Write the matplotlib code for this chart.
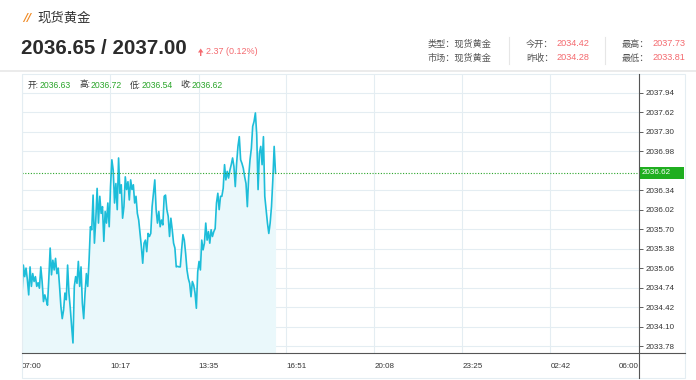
import matplotlib.pyplot as plt
from matplotlib.lines import Line2D
from matplotlib.patches import Rectangle, Polygon

W, H = 696, 380

# price samples, one every 3 minutes from 07:00
prices = [
    2034.63, 2035.11, 2034.92, 2035.06, 2034.87, 2034.62, 2035.08, 2034.76, 2034.97, 2034.84,
    2034.92, 2034.76, 2034.82, 2034.73, 2035.08, 2034.84, 2034.51, 2034.62, 2034.54, 2034.45,
    2034.89, 2035.39, 2034.95, 2035.19, 2035.03, 2035.22, 2034.97, 2035.06, 2034.76, 2034.43,
    2034.23, 2034.37, 2034.65, 2034.54, 2035.11, 2034.65, 2034.40, 2034.10, 2033.83, 2034.76,
    2034.92, 2034.81, 2035.17, 2034.76, 2035.08, 2034.48, 2034.23, 2034.65, 2034.97, 2034.76,
    2035.19, 2035.74, 2035.69, 2036.26, 2035.47, 2035.85, 2036.37, 2035.80, 2036.24, 2035.96,
    2036.07, 2035.50, 2035.99, 2035.80, 2036.13, 2035.74, 2036.40, 2036.84, 2036.67, 2036.13,
    2036.45, 2036.02, 2036.87, 2036.29, 2036.43, 2035.88, 2036.07, 2036.56, 2036.35, 2036.48,
    2036.18, 2036.51, 2036.35, 2036.43, 2036.13, 2036.24, 2035.96, 2035.85, 2035.63, 2035.41,
    2035.14, 2035.47, 2035.52, 2035.33, 2035.63, 2035.58, 2035.63, 2036.07, 2036.29, 2036.51,
    2036.02, 2035.80, 2035.99, 2035.74, 2035.85, 2035.77, 2036.24, 2036.26, 2036.02, 2035.91,
    2035.58, 2035.88, 2035.69, 2035.47, 2035.39, 2035.08, 2035.09, 2035.08, 2035.08, 2035.36,
    2035.61, 2035.52, 2035.30, 2035.03, 2034.89, 2034.81, 2034.59, 2034.84, 2034.78, 2034.65,
    2034.40, 2035.00, 2035.17, 2035.03, 2035.52, 2035.36, 2035.47, 2035.80, 2035.52, 2035.66,
    2035.47, 2035.69, 2035.58, 2035.66, 2035.71, 2036.13, 2036.29, 2036.02, 2036.24, 2036.24,
    2036.37, 2036.76, 2036.51, 2036.65, 2036.54, 2036.67, 2036.76, 2036.87, 2036.73, 2036.40,
    2036.78, 2037.06, 2037.22, 2036.84, 2036.78, 2036.70, 2036.56, 2036.45, 2036.07, 2036.56,
    2036.84, 2037.03, 2037.39, 2037.47, 2037.61, 2037.25, 2036.35, 2036.95, 2037.06, 2036.76,
    2037.22, 2036.24, 2036.02, 2035.80, 2035.63, 2035.80, 2036.07, 2036.51, 2037.06, 2036.62,
]
minutes = [3 * i for i in range(len(prices))]

x_ticks = [0, 197, 395, 591, 788, 985, 1182, 1380]
x_labels = ['07:00', '10:17', '13:35', '16:51', '20:08', '23:25', '02:42', '06:00']
# 2036.66 is hidden behind the current price tag
y_labels = ['2033.78', '2034.10', '2034.42', '2034.74', '2035.06', '2035.38', '2035.70',
            '2036.02', '2036.34', '2036.98', '2037.30', '2037.62', '2037.94']
y_ticks = [float(s) for s in y_labels]
last_price = 2036.62

legend_items = [('开', '2036.63', 28), ('高', '2036.72', 79), ('低', '2036.54', 130), ('收', '2036.62', 180)]
info_rows = [
    [('类型：现货黄金', None), ('今开：', '2034.42'), ('最高：', '2037.73')],
    [('市场：现货黄金', None), ('昨收：', '2034.28'), ('最低：', '2033.81')],
]

plt.rcParams['font.family'] = ['Noto Sans CJK SC', 'DejaVu Sans']

LINE = '#1dbdd9'
FILL = '#eaf8fb'
GRID = '#e4edf2'
RED = '#f46a6f'
GREEN = '#2aa52a'


def fx(x):
    return x / W


def fy(y):
    return 1 - y / H


fig = plt.figure(figsize=(W / 100, H / 100), dpi=100)
ax = fig.add_axes([fx(22), fy(353), (639 - 22) / W, (353 - 74) / H])

ax.fill_between(minutes, prices, 2033.0, color=FILL, lw=0)
ax.plot(minutes, prices, color=LINE, lw=1.2)
ax.axhline(last_price, color=GREEN, lw=0.8, ls=(0, (1, 1.5)))

ax.set_xlim(0, 1380)
ax.set_ylim(2033.665, 2038.25)
ax.set_xticks(x_ticks)
ax.set_xticklabels([])
ax.set_yticks(y_ticks)
ax.set_yticklabels(y_labels)
ax.yaxis.tick_right()
ax.tick_params(axis='y', length=3, width=0.6, color='#444', pad=1.5,
               labelsize=5.8, labelcolor='#333', labelfontfamily='Liberation Sans')
ax.tick_params(axis='x', length=0)
ax.grid(True, color=GRID, lw=0.8)
ax.set_axisbelow(True)
for s in ax.spines.values():
    s.set_visible(False)

# x labels, left aligned at the tick, last one right aligned
for t, lab in zip(x_ticks, x_labels):
    ha = 'right' if t == x_ticks[-1] else 'left'
    ax.text(t, -0.05, lab, transform=ax.get_xaxis_transform(), ha=ha, va='center',
            fontsize=5.8, color='#333', family='Liberation Sans')

# frame and axis lines
fig.add_artist(Rectangle((fx(22), fy(378)), (685 - 22) / W, (378 - 74) / H,
                         transform=fig.transFigure, fill=False, ec=GRID, lw=0.8))
fig.add_artist(Line2D([fx(22), fx(685)], [fy(353), fy(353)], transform=fig.transFigure, color='#555', lw=0.8))
fig.add_artist(Line2D([fx(639), fx(639)], [fy(74), fy(378)], transform=fig.transFigure, color='#555', lw=0.8))
fig.add_artist(Line2D([0, 1], [fy(70.5), fy(70.5)], transform=fig.transFigure, color='#e8e8e8', lw=1.2))

# current price tag
fig.add_artist(Rectangle((fx(640), fy(179)), 44 / W, 12 / H, transform=fig.transFigure,
                         fc='#1fae1f', ec='none'))
fig.text(fx(642), fy(173), '2036.62', color='white', fontsize=5.8, va='center',
         family='Liberation Sans')

# ohlc legend
for lab, val, x in legend_items:
    fig.text(fx(x), fy(85), lab + ':', fontsize=6.2, color='#333', va='center')
    fig.text(fx(x + 12), fy(85), val, fontsize=6.2, color=GREEN, va='center',
             family='Liberation Sans')

# header
fig.text(fx(23), fy(18), '//', fontsize=8, color='#f08a24', weight='bold', style='italic',
         va='center', family='DejaVu Sans')
fig.text(fx(37), fy(18), '现货黄金', fontsize=9.6, color='#333', va='center')
fig.text(fx(21), fy(48), '2036.65 / 2037.00', fontsize=14.8, weight='bold', color='#2b2b2b',
         va='center', family='Liberation Sans')
arrow = [(198, 52.5), (200.7, 48.5), (203.4, 52.5), (201.4, 52.5), (201.4, 56), (200, 56), (200, 52.5)]
fig.add_artist(Polygon([(fx(a), fy(b)) for a, b in arrow], closed=True,
                       transform=fig.transFigure, fc=RED, ec='none'))
fig.text(fx(206), fy(52), '2.37 (0.12%)', fontsize=6.5, color=RED, va='center',
         family='Liberation Sans')

# info table
col_x = [428, 526, 622]
row_y = [44, 58]
for r, row in enumerate(info_rows):
    for c, (lab, val) in enumerate(row):
        fig.text(fx(col_x[c]), fy(row_y[r]), lab, fontsize=6.6, color='#555', va='center')
        if val:
            fig.text(fx(col_x[c] + 30), fy(row_y[r]), val, fontsize=6.6, color=RED,
                     va='center', family='Liberation Sans')
for sx in (509, 605):
    fig.add_artist(Line2D([fx(sx), fx(sx)], [fy(37), fy(64)], transform=fig.transFigure,
                          color='#e6e6e6', lw=0.8))

fig.savefig('out.png', dpi=100)
